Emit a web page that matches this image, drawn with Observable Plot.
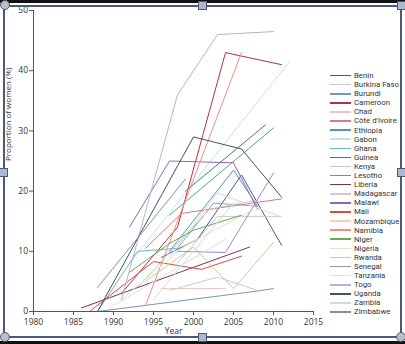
<!DOCTYPE html>
<html><head><meta charset="utf-8">
<script src="https://cdn.jsdelivr.net/npm/d3@7"></script>
<script src="https://cdn.jsdelivr.net/npm/@observablehq/plot@0.6"></script>
<style>
html,body{margin:0;padding:0;background:#fff;}
#wrap{position:relative;width:405px;height:344px;overflow:hidden;background:#fff;font-family:"Open Sans",sans-serif;}
#chart{position:absolute;left:0;top:0;}
#legend{position:absolute;left:330px;top:71px;font-family:Roboto,"Open Sans",sans-serif;font-size:7.8px;color:#333;}
.row{height:9.1px;line-height:9.1px;display:flex;align-items:center;white-space:nowrap;}
.sw{width:21px;height:1.6px;margin-right:3px;}
.deco{position:absolute;}
</style></head>
<body><div id="wrap"><div id="chart"></div><div id="legend"></div></div>
<script>
const countries = ["Benin","Burkina Faso","Burundi","Cameroon","Chad","Côte d'Ivoire","Ethiopia","Gabon","Ghana","Guinea","Kenya","Lesotho","Liberia","Madagascar","Malawi","Mali","Mozambique","Namibia","Niger","Nigeria","Rwanda","Senegal","Tanzania","Togo","Uganda","Zambia","Zimbabwe"];
const colours = ["#3d5c9c","#c9c9cf","#7b93bd","#b0304a","#e9c6c6","#d87888","#4f98c4","#c6e2ee","#68b8c8","#3e8753","#c6c6c6","#4fa58e","#7a3060","#d8c4da","#9068b0","#e04848","#f1d2ba","#f09078","#6aaa50","#d9e6cf","#bcd39a","#9890c8","#dcdce8","#b4b4d4","#3a5a50","#c9dde2","#8090a8"];
const xTicks = [1980,1985,1990,1995,2000,2005,2010,2015];
const yTicks = [0,10,20,30,40,50];

const benin       = [[1996,9],[2000.5,12],[2006,22.7],[2011,11]];
const burkinaFaso = [[1998,8],[2003,15.8],[2011,15.8]];
const burundi     = [[1988,0],[2008,3.4],[2010,3.8]];
const cameroon    = [[1991,3],[1998,14],[2004,43],[2011,41]];
const chad        = [[1996,3.8],[2004,3.8]];
const coteDIvoire = [[1994,10.5],[1998.5,16.3],[2011,18.7]];
const ethiopia    = [[1997,10],[2005,23.5],[2008,17.5]];
const gabon       = [[1992,8],[2012,41.5]];
const ghana       = [[1988,0],[1993,10],[1998,10.5],[2002.5,18],[2008,17.5]];
const guinea      = [[1999,20],[2009,31]];
const kenya       = [[1993,4],[2002,17],[2008,18.5]];
const lesotho     = [[1997,16],[2010,30.5]];
const liberia     = [[1986,0.6],[2007,10.7]];
const madagascar  = [[1997,3.5],[2003,5.7],[2008,3.5]];
const malawi      = [[1992,14],[1997,25],[2005,24.7],[2008,17]];
const mali        = [[1987,0],[1995,8.3],[2001,7],[2006,9.2]];
const mozambique  = [[1997,9],[2003,19.7],[2011,15.7]];
const namibia     = [[1994,1],[2006,43]];
const niger       = [[1992,6.5],[1997,11.3],[2000,13.5],[2006,16]];
const nigeria     = [[1991,2],[1999,11],[2007,16.5]];
const rwanda      = [[1994,5],[2000,10.7],[2005,3.8],[2010,11.5]];
const senegal     = [[1998,10],[2004,9.8],[2010,23]];
const tanzania    = [[1990,1],[2004,12]];
const togo        = [[1991,2],[1998,36],[2003,46],[2010,46.5]];
const uganda      = [[1988,0],[2000,29],[2006,27],[2011,19]];
const zambia      = [[1995,2],[2005,18]];
const zimbabwe    = [[1988,4],[1999,22]];

const seriesList = [benin,burkinaFaso,burundi,cameroon,chad,coteDIvoire,ethiopia,gabon,ghana,guinea,kenya,lesotho,liberia,madagascar,malawi,mali,mozambique,namibia,niger,nigeria,rwanda,senegal,tanzania,togo,uganda,zambia,zimbabwe];
const rows = countries.flatMap((c, i) => seriesList[i].map(([year, value]) => ({country: c, year, value})));

const chart = Plot.plot({
  width: 405, height: 344,
  marginLeft: 33, marginRight: 92, marginTop: 10, marginBottom: 33,
  style: {fontFamily: "'Open Sans', sans-serif", fontSize: "8.5px", color: "#333", background: "transparent", overflow: "visible"},
  x: {domain: [1980, 2015]},
  y: {domain: [0, 50]},
  color: {domain: countries, range: colours},
  marks: [
    Plot.line(rows, {x: "year", y: "value", z: "country", stroke: "country", strokeWidth: 1}),
    Plot.ruleX([1980], {stroke: "#555", strokeWidth: 1}),
    Plot.ruleY([0], {stroke: "#555", strokeWidth: 1}),
    Plot.axisX({ticks: xTicks, tickFormat: d => String(d), tickSize: 4, tickPadding: 3, label: null, stroke: "#555"}),
    Plot.axisY({ticks: yTicks, tickSize: 4, tickPadding: 1.5, label: null, stroke: "#555"}),
    Plot.text(["Year"], {frameAnchor: "bottom", dy: 22, fontSize: 8.5, fill: "#333"}),
    Plot.text(["Proportion of women (%)"], {frameAnchor: "left", dx: -25, rotate: -90, fontSize: 8, fill: "#333"})
  ]
});
document.getElementById("chart").appendChild(chart);

const legend = document.getElementById("legend");
countries.forEach((c, i) => {
  const r = document.createElement("div");
  r.className = "row";
  r.innerHTML = `<span class="sw" style="background:${colours[i]}"></span><span>${c}</span>`;
  legend.appendChild(r);
});

// picture frame (embedded-figure border and handles)
const wrap = document.getElementById("wrap");
function deco(css) { const d = document.createElement("div"); d.className = "deco"; d.style.cssText = css; wrap.appendChild(d); }
deco("left:0;top:0;width:405px;height:3px;background:#111;");
deco("left:0;top:341px;width:405px;height:3px;background:#111;");
deco("left:3px;top:5px;width:398px;height:1.5px;background:#4a5a78;");
deco("left:3px;top:336px;width:398px;height:1.5px;background:#4a5a78;");
deco("left:3px;top:5px;width:1.5px;height:332px;background:#4a5a78;");
deco("left:400px;top:5px;width:1.5px;height:332px;background:#4a5a78;");
[[5,5],[5,337],[401,337]].forEach(([x,y]) => deco(`left:${x-5}px;top:${y-5}px;width:8px;height:8px;border-radius:50%;background:#b8bfcc;border:1px solid #556;`));
[[202,5],[401,5],[3,172],[401,172],[202,337]].forEach(([x,y]) => deco(`left:${x-4}px;top:${y-4}px;width:7px;height:7px;background:#a9b8d4;border:1px solid #556;`));
</script></body></html>
